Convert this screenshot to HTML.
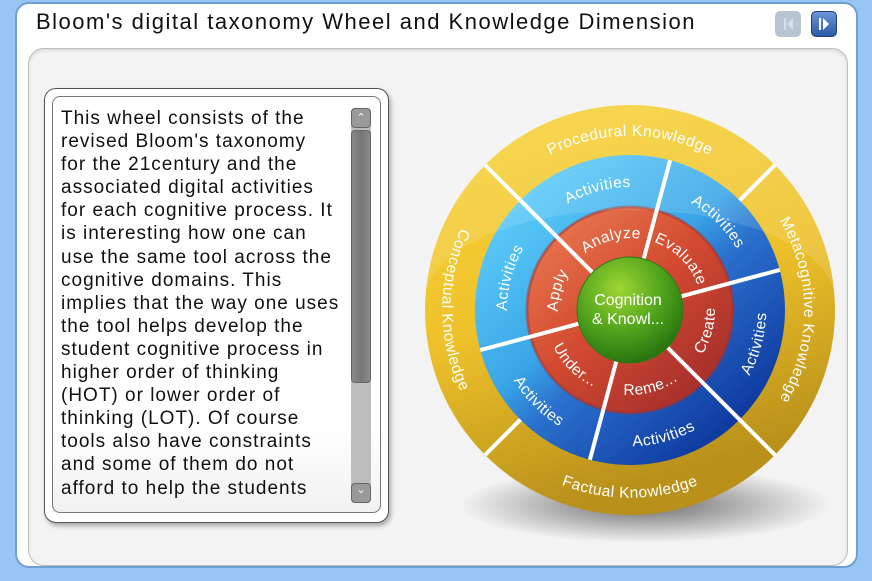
<!DOCTYPE html>
<html><head><meta charset="utf-8"><style>
body{margin:0;width:872px;height:581px;background:#98c6f4;position:relative;overflow:hidden;font-family:"Liberation Sans",sans-serif}
.frame{position:absolute;left:15px;top:2px;width:843px;height:566px;background:#fff;border:2px solid #6f9fd0;border-radius:14px;box-sizing:border-box}
.title{position:absolute;left:36px;top:9px;font-size:22px;color:#111;letter-spacing:1.5px}
.panel{position:absolute;left:28px;top:48px;width:820px;height:518px;background:#f3f3f3;border:1px solid #bbb;border-radius:16px;box-sizing:border-box;box-shadow:inset 0 2px 3px #ddd}
.box{position:absolute;left:44px;top:88px;width:345px;height:435px;background:#fff;border:1.5px solid #555;border-radius:12px;box-sizing:border-box;box-shadow:2px 3px 5px rgba(0,0,0,.3)}
.inner{position:absolute;left:52px;top:96px;width:329px;height:417px;border:1px solid #777;border-radius:8px;box-sizing:border-box;background:linear-gradient(#fff 80%,#f1f1f1)}
.txt{position:absolute;left:61px;top:107px;font-size:19px;line-height:23.1px;color:#111;white-space:nowrap;letter-spacing:1px}
.sb{position:absolute;left:351px;width:20px;border-radius:4px}
.btn{position:absolute;width:26px;height:26px;border-radius:5px;top:11px}
</style></head><body>
<div class="frame"></div>
<div class="title">Bloom's digital taxonomy Wheel and Knowledge Dimension</div>
<div class="btn" style="left:775px;background:#b8c4d2"><svg width="26" height="26"><rect x="9" y="7" width="2" height="12" fill="#d8dee6"/><path d="M18 7 L12 13 L18 19Z" fill="#d8dee6"/></svg></div>
<div class="btn" style="left:811px;background:linear-gradient(#6a95d6,#2d5aa8);border:1px solid #1f3f7a;box-sizing:border-box"><svg width="24" height="24"><rect x="7" y="6" width="2" height="12" fill="#fff"/><path d="M11 6 L17 12 L11 18Z" fill="#fff"/></svg></div>
<div class="panel"></div>
<div class="box"></div>
<div class="inner"></div>
<div class="txt">This wheel consists of the<br>revised Bloom's taxonomy<br>for the 21century and the<br>associated digital activities<br>for each cognitive process. It<br>is interesting how one can<br>use the same tool across the<br>cognitive domains. This<br>implies that the way one uses<br>the tool helps develop the<br>student cognitive process in<br>higher order of thinking<br>(HOT) or lower order of<br>thinking (LOT). Of course<br>tools also have constraints<br>and some of them do not<br>afford to help the students</div>
<div class="sb" style="top:108px;height:395px;background:#bdbdbd"></div>
<div class="sb" style="top:130px;height:253px;background:linear-gradient(90deg,#8a8a8a,#777 50%,#8a8a8a);border:1px solid #666;box-sizing:border-box"></div>
<div class="sb" style="top:108px;height:20px;background:#9a9a9a;border:1px solid #666;box-sizing:border-box;color:#fff;font-size:11px;text-align:center;line-height:18px">&#8963;</div>
<div class="sb" style="top:483px;height:20px;background:#9a9a9a;border:1px solid #666;box-sizing:border-box;color:#fff;font-size:11px;text-align:center;line-height:12px">&#8964;</div>
<svg style="position:absolute;left:0;top:0" width="872" height="581">
<defs>
<radialGradient id="sh" cx="0.5" cy="0.5" r="0.5"><stop offset="0" stop-color="#000" stop-opacity=".55"/><stop offset="1" stop-color="#000" stop-opacity="0"/></radialGradient>
<linearGradient id="yl" x1="0" y1="0" x2="0.3" y2="1"><stop offset="0" stop-color="#f9d43a"/><stop offset=".55" stop-color="#eec12a"/><stop offset="1" stop-color="#b8901a"/></linearGradient>
<linearGradient id="bl" x1="0.1" y1="0.1" x2="0.8" y2="0.9"><stop offset="0" stop-color="#5fd0fa"/><stop offset=".45" stop-color="#3aa6e8"/><stop offset=".6" stop-color="#2a70cc"/><stop offset="1" stop-color="#0f3aa0"/></linearGradient>
<linearGradient id="rd" x1="0.1" y1="0.1" x2="0.8" y2="0.9"><stop offset="0" stop-color="#e8764e"/><stop offset=".5" stop-color="#d24a30"/><stop offset="1" stop-color="#a8302c"/></linearGradient>
<radialGradient id="gr" cx="0.4" cy="0.3" r="0.7"><stop offset="0" stop-color="#9ed832"/><stop offset=".6" stop-color="#4ea11c"/><stop offset="1" stop-color="#2a7510"/></radialGradient>
<path id="p1"/><path id="p2"/><path id="p3"/><path id="p4"/>
<path id="b1"/><path id="b2"/><path id="b3"/><path id="b4"/><path id="b5"/><path id="b6"/>
<path id="r1"/><path id="r2"/><path id="r3"/><path id="r4"/><path id="r5"/><path id="r6"/>
</defs>
<ellipse cx="645" cy="505" rx="185" ry="38" fill="url(#sh)"/>
<circle cx="630" cy="310" r="205" fill="url(#yl)"/>
<circle cx="630" cy="310" r="155" fill="url(#bl)"/>
<circle cx="630" cy="310" r="103" fill="url(#rd)"/>
<circle cx="630" cy="310" r="103" fill="none" stroke="#a82e28" stroke-width="3" opacity=".5"/>
<path d="M425 300 A205 205 0 0 1 835 300 A205 90 0 0 0 425 300Z" fill="#fff" opacity=".12"/>
<g id="lines" stroke="#fff" stroke-width="4"></g>
<circle cx="630" cy="310" r="53" fill="url(#gr)" stroke="#2f7a12" stroke-width="1"/>
<text x="628" y="305" fill="#fff" font-size="16" text-anchor="middle">Cognition</text>
<text x="628" y="324" fill="#fff" font-size="16" text-anchor="middle">&amp; Knowl...</text>
<g fill="#fff" font-size="15.5" text-anchor="middle" letter-spacing="0.5">
<text><textPath href="#p1" startOffset="50%">Procedural Knowledge</textPath></text>
<text><textPath href="#p2" startOffset="50%">Metacognitive Knowledge</textPath></text>
<text><textPath href="#p3" startOffset="50%">Factual Knowledge</textPath></text>
<text><textPath href="#p4" startOffset="50%">Conceptual Knowledge</textPath></text>
<text><textPath href="#b1" startOffset="50%">Activities</textPath></text>
<text><textPath href="#b2" startOffset="50%">Activities</textPath></text>
<text><textPath href="#b3" startOffset="50%">Activities</textPath></text>
<text><textPath href="#b4" startOffset="50%">Activities</textPath></text>
<text><textPath href="#b5" startOffset="50%">Activities</textPath></text>
<text><textPath href="#b6" startOffset="50%">Activities</textPath></text>
<text><textPath href="#r1" startOffset="50%">Evaluate</textPath></text>
<text><textPath href="#r2" startOffset="50%">Analyze</textPath></text>
<text><textPath href="#r3" startOffset="50%">Apply</textPath></text>
<text><textPath href="#r4" startOffset="50%">Under...</textPath></text>
<text><textPath href="#r5" startOffset="50%">Reme...</textPath></text>
<text><textPath href="#r6" startOffset="50%">Create</textPath></text>
</g>
</svg>
<script>
var cx=630,cy=310;
function P(a,r){a=a*Math.PI/180;return (cx+r*Math.cos(a)).toFixed(1)+' '+(cy-r*Math.sin(a)).toFixed(1);}
function arc(id,th,r,cw){var s=80,d=cw?'M'+P(th+s,r)+' A'+r+' '+r+' 0 0 1 '+P(th-s,r):'M'+P(th-s,r)+' A'+r+' '+r+' 0 0 0 '+P(th+s,r);document.getElementById(id).setAttribute('d',d);}
arc('p1',90,174,1);arc('p2',0,174,1);arc('p3',270,188,0);arc('p4',180,188,0);
var bs=[45,105,165,225,285,345];
for(var i=0;i<6;i++){var cw=i<3;arc('b'+(i+1),bs[i],cw?123:136,cw);arc('r'+(i+1),bs[i],cw?72:85,cw);}
var g=document.getElementById('lines'),h='';
function L(a,r1,r2){h+='<line x1="'+P(a,r1).replace(' ','" y1="')+'" x2="'+P(a,r2).replace(' ','" y2="')+'"/>';}
[15,75,135,195,255,315].forEach(function(a){L(a,53,(a==135||a==315)?205:155);});
L(45,155,205);L(225,155,205);
g.innerHTML=h;
</script>
</body></html>
